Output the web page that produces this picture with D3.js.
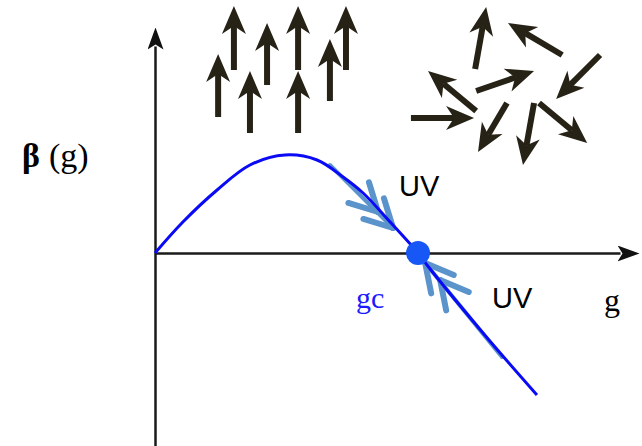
<!DOCTYPE html>
<html>
<head>
<meta charset="utf-8">
<script src="https://cdn.jsdelivr.net/npm/d3@7"></script>
<style>
  html, body { margin: 0; padding: 0; background: #fff; }
  svg { display: block; }
</style>
</head>
<body>
<div id="chart"></div>
<script>
// beta function curve (g, beta), gc = 1
const curveG    = [0, 0.106, 0.236, 0.361, 0.494, 0.616, 0.715, 0.791, 0.894, 1, 1.034, 1.247, 1.452];
const curveBeta = [0, 0.31, 0.63, 0.88, 0.98, 0.93, 0.76, 0.60, 0.31, 0, -0.12, -0.80, -1.42];
const gc = 1;

// ordered spins (all pointing up): [g, beta] tail and tip
const upTails = [[0.300, 1.83], [0.426, 1.68], [0.544, 1.83], [0.726, 1.83], [0.240, 1.36], [0.361, 1.20], [0.544, 1.20], [0.665, 1.52]];
const upTips  = [[0.300, 2.47], [0.426, 2.30], [0.544, 2.47], [0.726, 2.47], [0.240, 1.99], [0.361, 1.82], [0.544, 1.82], [0.665, 2.14]];

// disordered spins
const spinTails = [[1.217, 1.84], [1.548, 1.98], [1.692, 1.98], [1.221, 1.62], [1.221, 1.42], [0.973, 1.35], [1.338, 1.50], [1.441, 1.50], [1.460, 1.50]];
const spinTips  = [[1.259, 2.46], [1.342, 2.30], [1.525, 1.54], [1.441, 1.82], [1.038, 1.82], [1.213, 1.35], [1.228, 1.01], [1.399, 0.88], [1.643, 1.10]];

// UV flow arrows along the curve: shaft from -> to, chevron tips
const flowFrom = [[0.665, 0.88], [1.319, -1.04]];
const flowTo   = [[0.905, 0.25], [1.027, -0.10]];
const chevronTips = [[[0.848, 0.41], [0.905, 0.25]], [[1.027, -0.10], [1.084, -0.27]]];

const labels = ["UV", "UV"];

const width = 642, height = 446;

const svg = d3.select("#chart").append("svg")
  .attr("width", width)
  .attr("height", height);

const x = d3.scaleLinear().domain([0, 1.84]).range([155, 639]);
const y = d3.scaleLinear().domain([-1.93, 2.26]).range([446, 27]);

// arrow marker for the axes
svg.append("defs").append("marker")
  .attr("id", "axhead")
  .attr("viewBox", "0 0 22 16")
  .attr("markerUnits", "userSpaceOnUse")
  .attr("markerWidth", 22)
  .attr("markerHeight", 16)
  .attr("refX", 3)
  .attr("refY", 8)
  .attr("orient", "auto")
  .append("path")
  .attr("d", "M0,0 L22,8 L0,16 L5,8 Z")
  .attr("fill", "#111");

// axes (no ticks), shortened so the head ends at the tip
const xAxisScale = x.copy().domain([0, x.invert(620)]).range([x(0), 620]);
const yAxisScale = y.copy().domain([-1.93, y.invert(46)]).range([446, 46]);

const gx = svg.append("g")
  .attr("transform", `translate(0,${y(0)})`)
  .call(d3.axisBottom(xAxisScale).ticks(0).tickSizeOuter(0));
gx.select(".domain").attr("stroke", "#1a1a1a").attr("stroke-width", 2.5).attr("marker-end", "url(#axhead)");

const gy = svg.append("g")
  .attr("transform", `translate(${x(0)},0)`)
  .call(d3.axisLeft(yAxisScale).ticks(0).tickSizeOuter(0));
gy.select(".domain").attr("stroke", "#1a1a1a").attr("stroke-width", 2.5).attr("marker-end", "url(#axhead)");

// spin arrows
function spinArrow(g, tail, tip) {
  const x0 = x(tail[0]), y0 = y(tail[1]), x1 = x(tip[0]), y1 = y(tip[1]);
  const len = Math.hypot(x1 - x0, y1 - y0);
  const ux = (x1 - x0) / len, uy = (y1 - y0) / len;
  const px = -uy, py = ux;
  const hl = 28, hw = 12, notch = 20;
  g.append("line")
    .attr("x1", x0).attr("y1", y0)
    .attr("x2", x1 - ux * notch).attr("y2", y1 - uy * notch)
    .attr("stroke", "#262216").attr("stroke-width", 6);
  g.append("path")
    .attr("d", `M${x1},${y1} L${x1 - ux * hl + px * hw},${y1 - uy * hl + py * hw} L${x1 - ux * notch},${y1 - uy * notch} L${x1 - ux * hl - px * hw},${y1 - uy * hl - py * hw} Z`)
    .attr("fill", "#262216");
}

const spins = svg.append("g");
upTails.forEach((t, i) => spinArrow(spins, t, upTips[i]));
spinTails.forEach((t, i) => spinArrow(spins, t, spinTips[i]));

// UV flow arrows (light blue)
const flow = svg.append("g")
  .attr("stroke", "#5b93cb")
  .attr("fill", "none")
  .attr("stroke-linecap", "round");

flowFrom.forEach((f, i) => {
  const t = flowTo[i];
  const x0 = x(f[0]), y0 = y(f[1]), x1 = x(t[0]), y1 = y(t[1]);
  const len = Math.hypot(x1 - x0, y1 - y0);
  const ux = (x1 - x0) / len, uy = (y1 - y0) / len;
  flow.append("line")
    .attr("x1", x0).attr("y1", y0).attr("x2", x1).attr("y2", y1)
    .attr("stroke-width", 4);
  const a = 28 * Math.PI / 180, arm = 31;
  chevronTips[i].forEach(c => {
    const cx = x(c[0]), cy = y(c[1]);
    [a, -a].forEach(s => {
      const bx = -(ux * Math.cos(s) - uy * Math.sin(s));
      const by = -(ux * Math.sin(s) + uy * Math.cos(s));
      flow.append("line")
        .attr("x1", cx).attr("y1", cy)
        .attr("x2", cx + bx * arm).attr("y2", cy + by * arm)
        .attr("stroke-width", 6);
    });
  });
});

// beta(g) curve
const line = d3.line()
  .x((d, i) => x(curveG[i]))
  .y((d, i) => y(curveBeta[i]))
  .curve(d3.curveCatmullRom.alpha(0.5));

svg.append("path")
  .datum(curveG)
  .attr("d", line)
  .attr("fill", "none")
  .attr("stroke", "#0a0af5")
  .attr("stroke-width", 3);

// fixed point
svg.append("circle")
  .attr("cx", x(gc)).attr("cy", y(0))
  .attr("r", 12)
  .attr("fill", "#1757f5");

// texts
svg.append("text")
  .attr("x", 399).attr("y", 196)
  .attr("font-family", "Liberation Sans, Arial, sans-serif")
  .attr("font-size", 29)
  .attr("fill", "#000")
  .text(labels[0]);

svg.append("text")
  .attr("x", 492).attr("y", 308)
  .attr("font-family", "Liberation Sans, Arial, sans-serif")
  .attr("font-size", 29)
  .attr("fill", "#000")
  .text(labels[1]);

svg.append("text")
  .attr("x", x(gc) - 62).attr("y", 308)
  .attr("font-family", "Liberation Serif, Times New Roman, serif")
  .attr("font-size", 30)
  .attr("fill", "#1a1aff")
  .text("gc");

svg.append("text")
  .attr("x", 604).attr("y", 311)
  .attr("font-family", "Liberation Serif, Times New Roman, serif")
  .attr("font-size", 32)
  .attr("fill", "#000")
  .text("g");

const yl = svg.append("text")
  .attr("x", 22).attr("y", 167)
  .attr("font-family", "Liberation Serif, Times New Roman, serif")
  .attr("font-size", 34)
  .attr("fill", "#000");
yl.append("tspan").attr("font-weight", "bold").text("β");
yl.append("tspan").attr("dx", 9).text("(g)");
</script>
</body>
</html>
